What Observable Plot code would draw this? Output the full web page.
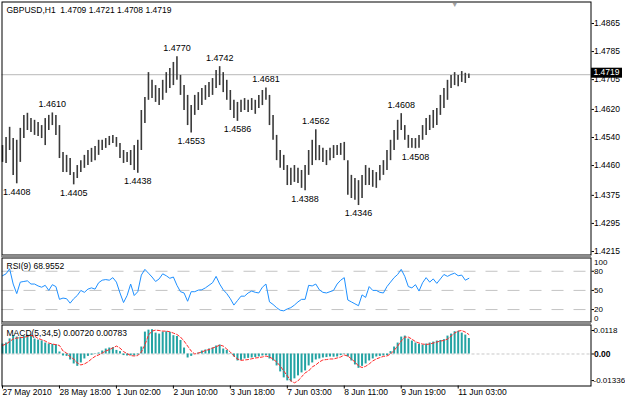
<!DOCTYPE html>
<html><head><meta charset="utf-8">
<script src="https://cdn.jsdelivr.net/npm/d3@7"></script>
<script src="https://cdn.jsdelivr.net/npm/@observablehq/plot@0.6"></script>
<style>
body{margin:0;background:#fff}
#c{position:relative;width:625px;height:402px;overflow:hidden;background:#fff}
#c svg{position:absolute;left:0}
.split{position:absolute;left:1px;width:590px;height:2px;background:#8c8c8c}
</style></head>
<body><div id="c"></div>
<script>
// ---------- data ----------
const symbolTitle = "GBPUSD,H1  1.4709 1.4721 1.4708 1.4719";
const lastClose = 1.4719;
const highs = [1.4517,1.4540,1.4569,1.4537,1.4532,1.4566,1.4603,1.4609,1.4594,1.4589,
1.4583,1.4574,1.4594,1.4603,1.4610,1.4603,1.4574,1.4497,1.4489,1.4480,
1.4440,1.4460,1.4474,1.4489,1.4503,1.4509,1.4514,1.4532,1.4532,1.4537,
1.4543,1.4546,1.4540,1.4523,1.4503,1.4497,1.4503,1.4517,1.4532,1.4617,
1.4654,1.4725,1.4703,1.4688,1.4680,1.4703,1.4725,1.4737,1.4754,1.4770,
1.4717,1.4688,1.4660,1.4631,1.4660,1.4668,1.4680,1.4688,1.4697,1.4708,
1.4731,1.4742,1.4725,1.4703,1.4674,1.4646,1.4640,1.4646,1.4651,1.4646,
1.4651,1.4646,1.4660,1.4674,1.4681,1.4660,1.4603,1.4546,1.4503,1.4489,
1.4460,1.4452,1.4460,1.4452,1.4446,1.4460,1.4503,1.4532,1.4562,1.4517,
1.4509,1.4503,1.4509,1.4517,1.4517,1.4523,1.4526,1.4474,1.4432,1.4423,
1.4417,1.4432,1.4460,1.4452,1.4446,1.4440,1.4460,1.4474,1.4503,1.4532,
1.4560,1.4589,1.4608,1.4574,1.4546,1.4537,1.4537,1.4546,1.4574,1.4594,
1.4603,1.4617,1.4623,1.4660,1.4680,1.4703,1.4717,1.4725,1.4717,1.4728,
1.4723,1.4721];
const lows = [1.4469,1.4466,1.4503,1.4432,1.4408,1.4469,1.4537,1.4560,1.4554,1.4546,
1.4543,1.4537,1.4517,1.4560,1.4574,1.4546,1.4480,1.4440,1.4440,1.4432,
1.4405,1.4423,1.4440,1.4452,1.4460,1.4469,1.4474,1.4489,1.4503,1.4509,
1.4517,1.4523,1.4512,1.4480,1.4466,1.4469,1.4460,1.4446,1.4438,1.4503,
1.4580,1.4646,1.4651,1.4640,1.4631,1.4646,1.4666,1.4680,1.4688,1.4703,
1.4660,1.4617,1.4574,1.4553,1.4603,1.4617,1.4631,1.4646,1.4654,1.4660,
1.4680,1.4688,1.4668,1.4646,1.4617,1.4594,1.4586,1.4611,1.4617,1.4611,
1.4617,1.4606,1.4623,1.4631,1.4646,1.4574,1.4532,1.4474,1.4452,1.4446,
1.4403,1.4403,1.4412,1.4409,1.4395,1.4388,1.4432,1.4460,1.4474,1.4474,
1.4469,1.4460,1.4474,1.4480,1.4489,1.4489,1.4474,1.4375,1.4366,1.4361,
1.4346,1.4366,1.4403,1.4403,1.4398,1.4395,1.4417,1.4432,1.4446,1.4474,
1.4503,1.4532,1.4560,1.4532,1.4509,1.4509,1.4508,1.4509,1.4532,1.4546,
1.4560,1.4566,1.4574,1.4603,1.4623,1.4646,1.4680,1.4688,1.4685,1.4697,
1.4694,1.4708];
const peakHighIdx = [14,49,61,74,88,112];
const peakHighVal = [1.4610,1.4770,1.4742,1.4681,1.4562,1.4608];
const peakLowIdx = [4,20,38,53,66,85,100,116];
const peakLowVal = [1.4408,1.4405,1.4438,1.4553,1.4586,1.4388,1.4346,1.4508];
const priceTicks = [1.4865,1.4785,1.4705,1.4620,1.4540,1.4460,1.4375,1.4295,1.4215];

const rsiTitle = "RSI(9) 68.9552";
const rsi = [73,76,84,60,45,63,64,65,60,60,
57,55,58,50,59,56,36,38,37,30,
37,42,50,47,52,54,52,62,66,67,
66,70,63,46,31,42,60,42,48,74,
83,77,71,64,68,76,73,69,71,58,
48,46,33,48,48,50.5,51,54,58,62,
72,60,51,45,37,27,34,41,41,46,
49,47,46,55,60,32,28,23,19,18,
21,23,27,32,36,36,58,57,60,51,
47,46,48,50,60,66,70,35,32,29,
26,43,39,56,50,50,47,46,56,63,
70,75,83,72,56,54,59,49,62,70,
63,68,61,68,75,72,75,77,73,74,
66,68.96];
const rsiLevels = [80,50,20];
const rsiTop = 100, rsiBottom = 0;

const macdTitle = "MACD(5,34,5) 0.00720 0.00783";
const macd = [0.0050,0.0055,0.0076,0.0093,0.0085,0.0084,0.0088,0.0095,0.0096,0.0075,
0.0070,0.0066,0.0055,0.0050,0.0048,0.0046,0.0010,-0.0010,-0.0012,-0.0030,
-0.0050,-0.0062,-0.0045,-0.0025,-0.0012,-0.0006,-0.0002,0.0005,0.0015,0.0025,
0.0030,0.0032,0.0018,0.0012,-0.0008,-0.0010,-0.0008,-0.0010,-0.0005,0.0035,
0.0110,0.0120,0.0122,0.0105,0.0100,0.0110,0.0112,0.0108,0.0092,0.0088,
0.0068,0.0030,-0.0020,-0.0012,0.0000,0.0005,0.0015,0.0020,0.0025,0.0030,
0.0040,0.0045,0.0025,0.0018,0.0002,-0.0015,-0.0035,-0.0032,-0.0025,-0.0022,
-0.0020,-0.0018,-0.0015,-0.0010,-0.0008,-0.0025,-0.0035,-0.0060,-0.0090,-0.0120,
-0.0135,-0.0140,-0.0125,-0.0110,-0.0095,-0.0085,-0.0060,-0.0045,-0.0030,-0.0025,
-0.0020,-0.0018,-0.0015,-0.0016,-0.0015,-0.0008,0.0002,-0.0015,-0.0035,-0.0055,
-0.0072,-0.0062,-0.0050,-0.0035,-0.0025,-0.0015,-0.0012,-0.0010,-0.0008,0.0012,
0.0035,0.0055,0.0085,0.0090,0.0075,0.0065,0.0055,0.0048,0.0045,0.0050,
0.0055,0.0060,0.0065,0.0068,0.0072,0.0090,0.0100,0.0112,0.0114,0.0105,
0.0095,0.0078];
const signal = [0.0043,0.0050,0.0062,0.0076,0.0080,0.0082,0.0084,0.0088,0.0093,0.0090,
0.0078,0.0072,0.0065,0.0055,0.0050,0.0047,0.0043,0.0015,0.0005,-0.0015,
-0.0025,-0.0045,-0.0055,-0.0050,-0.0040,-0.0025,-0.0012,-0.0005,0.0005,0.0015,
0.0022,0.0030,0.0040,0.0030,0.0012,0.0002,-0.0008,-0.0010,-0.0008,0.0010,
0.0045,0.0095,0.0115,0.0120,0.0118,0.0115,0.0115,0.0112,0.0105,0.0098,
0.0085,0.0065,0.0040,0.0015,0.0000,0.0005,0.0010,0.0018,0.0022,0.0030,
0.0036,0.0045,0.0040,0.0025,0.0010,-0.0010,-0.0025,-0.0032,-0.0030,-0.0028,
-0.0024,-0.0020,-0.0018,-0.0015,-0.0010,-0.0015,-0.0025,-0.0040,-0.0060,-0.0085,
-0.0110,-0.0135,-0.0145,-0.0135,-0.0115,-0.0095,-0.0085,-0.0065,-0.0055,-0.0040,
-0.0030,-0.0028,-0.0025,-0.0025,-0.0020,-0.0015,-0.0005,-0.0010,-0.0025,-0.0040,
-0.0060,-0.0068,-0.0062,-0.0050,-0.0035,-0.0025,-0.0018,-0.0012,-0.0010,0.0000,
0.0018,0.0040,0.0065,0.0085,0.0085,0.0075,0.0062,0.0055,0.0050,0.0048,
0.0050,0.0055,0.0060,0.0065,0.0068,0.0075,0.0090,0.0105,0.0115,0.0118,
0.0110,0.0098];
const macdTicks = [0.0118,-0.01336];
const macdTickLabels = ["0.0118","-0.01336"];
const zeroLabel = "0.00";

const timeIdx = [0,16,32,48,64,80,96,112,128];
const timeLabels = ["27 May 2010","28 May 18:00","1 Jun 02:00","2 Jun 10:00","3 Jun 18:00","7 Jun 03:00","8 Jun 11:00","9 Jun 19:00","11 Jun 03:00"];
const shiftBar = 127;

// ---------- tables ----------
const bars = highs.map((h, i) => ({i, high: h, low: lows[i]}));
const pkH = peakHighIdx.map((i, k) => ({i, v: peakHighVal[k]}));
const pkL = peakLowIdx.map((i, k) => ({i, v: peakLowVal[k]}));
const rsiData = rsi.map((v, i) => ({i, v}));
const macdData = macd.map((v, i) => ({i, v, s: signal[i]}));

const FONT = "'Liberation Sans', Arial, sans-serif";
const xDomain = [-0.14, 165.31];
const common = {
  width: 625, marginLeft: 1.5, marginRight: 34.5,
  style: {fontFamily: FONT, fontSize: "8.5px", background: "transparent", color: "#000", overflow: "visible"}
};
const TS = 2.5, TP = 0.5;
const root = document.getElementById("c");

// ---------- main price panel ----------
const main = Plot.plot({
  ...common, height: 256, marginTop: 1.5, marginBottom: 1.5,
  x: {domain: xDomain, axis: null},
  y: {domain: [1.42050, 1.49263], label: null},
  marks: [
    Plot.ruleY([lastClose], {stroke: "#b8b8b8"}),
    Plot.ruleX(bars, {x: "i", y1: "low", y2: "high", stroke: "#3a3a3a", strokeWidth: 1.6}),
    Plot.text(pkH, {x: "i", y: "v", text: d => d.v.toFixed(4), dy: -9, fontSize: 9}),
    Plot.text(pkL, {x: "i", y: "v", text: d => d.v.toFixed(4), dy: 8, fontSize: 9}),
    Plot.axisY(priceTicks, {anchor: "right", tickSize: TS, tickPadding: TP, tickFormat: d => d.toFixed(4), label: null}),
    Plot.text([shiftBar], {x: d => d, frameAnchor: "top", text: () => "\u25BC", fill: "#a0a0a0", fontSize: 7, lineAnchor: "top", dy: 0}),
    Plot.text([symbolTitle], {frameAnchor: "top-left", text: d => d, dx: 4.5, dy: 8.5, lineAnchor: "middle", textAnchor: "start"}),
    Plot.frame({stroke: "#000"})
  ]
});
main.style.top = "0px";
root.appendChild(main);
{
  const yy = main.scale("y").apply(lastClose);
  const xr = main.scale("x").range[1];
  const s = d3.select(main);
  s.append("rect").attr("x", xr + 0.5).attr("y", yy - 6.5).attr("width", 31).attr("height", 10).attr("fill", "#000");
  s.append("text").attr("x", xr + 3).attr("y", yy - 1.5).attr("dy", "0.32em").attr("fill", "#fff")
    .attr("text-anchor", "start").attr("font-size", "8.5px").attr("font-family", FONT).text(lastClose.toFixed(4));
}

// ---------- RSI panel ----------
const rsiPlot = Plot.plot({
  ...common, height: 67, marginTop: 1.5, marginBottom: 1.5,
  x: {domain: xDomain, axis: null},
  y: {domain: [0.5, 100.8], label: null},
  marks: [
    Plot.ruleY(rsiLevels, {stroke: "#c4c4c4", strokeDasharray: "12,10"}),
    Plot.line(rsiData, {x: "i", y: "v", stroke: "#1e90ff", strokeWidth: 1}),
    Plot.axisY(rsiLevels, {anchor: "right", tickSize: TS, tickPadding: TP, label: null, fontSize: 8}),
    Plot.text([rsiTop], {x: xDomain[1], y: d => d, text: d => String(d), dx: 3, dy: 4, textAnchor: "start", fontSize: 8}),
    Plot.text([rsiBottom], {x: xDomain[1], y: d => d, text: d => String(d), dx: 3, dy: -4, textAnchor: "start", fontSize: 8}),
    Plot.text([rsiTitle], {frameAnchor: "top-left", text: d => d, dx: 4.5, dy: 8.5, lineAnchor: "middle", textAnchor: "start"}),
    Plot.frame({stroke: "#000"})
  ]
});
rsiPlot.style.top = "256px";
root.appendChild(rsiPlot);

// ---------- MACD panel ----------
const macdPlot = Plot.plot({
  ...common, height: 79, marginTop: 1.5, marginBottom: 16.5,
  x: {domain: xDomain, label: null},
  y: {domain: [-0.01608, 0.01457], label: null},
  marks: [
    Plot.ruleY([0], {stroke: "#c8c8c8", strokeDasharray: "3,2"}),
    Plot.ruleX(macdData, {x: "i", y1: 0, y2: "v", stroke: "#23a3a3", strokeWidth: 2}),
    Plot.line(macdData, {x: "i", y: "s", stroke: "#ff2a2a", strokeDasharray: "3,2", strokeWidth: 1}),
    Plot.axisY(macdTicks, {anchor: "right", tickSize: TS, tickPadding: 0, tickFormat: d => macdTickLabels[macdTicks.indexOf(d)], label: null, fontSize: 8}),
    Plot.axisY([0], {anchor: "right", tickSize: TS, tickPadding: TP, tickFormat: () => zeroLabel, fontWeight: "bold", label: null}),
    Plot.axisX(timeIdx, {anchor: "bottom", tickSize: 3, tickPadding: 0, tickFormat: d => timeLabels[timeIdx.indexOf(d)], textAnchor: "start", label: null}),
    Plot.text([macdTitle], {frameAnchor: "top-left", text: d => d, dx: 4.5, dy: 8.5, lineAnchor: "middle", textAnchor: "start"}),
    Plot.frame({stroke: "#000"})
  ]
});
macdPlot.style.top = "323px";
root.appendChild(macdPlot);

// splitters between panels
for (const t of [255, 322]) {
  const d = document.createElement("div");
  d.className = "split"; d.style.top = t + "px";
  root.appendChild(d);
}
</script>
</body></html>
